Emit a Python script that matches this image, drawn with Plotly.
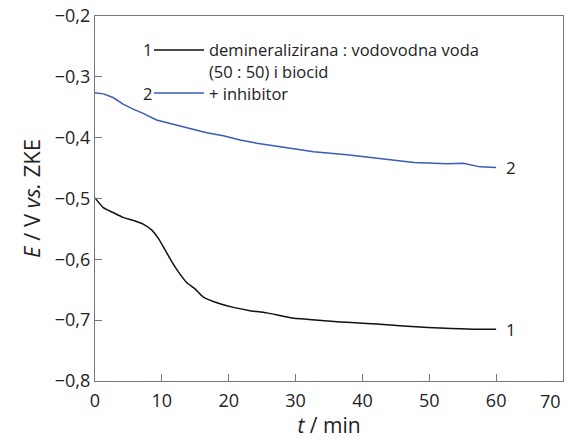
import plotly.graph_objects as go

# Series 1: demineralizirana : vodovodna voda (50:50) i biocid
t1 = [0, 1.25, 2.7, 4.2, 5.7, 7.2, 8.5, 9.5, 10.5, 11.5, 12.5, 13.7, 15, 16.2,
      18.7, 20.7, 23, 25.7, 29.2, 32, 36.7, 40, 44.2, 48, 51.6, 56.6, 60]
E1 = [-0.499, -0.515, -0.523, -0.531, -0.536, -0.542, -0.552, -0.566, -0.585,
      -0.604, -0.621, -0.638, -0.649, -0.662, -0.673, -0.679, -0.684, -0.688,
      -0.696, -0.699, -0.703, -0.705, -0.708, -0.711, -0.713, -0.715, -0.715]

# Series 2: + inhibitor
t2 = [0, 1.25, 2.7, 4.2, 5.7, 7.2, 9.2, 11.7, 14.2, 16.7, 19.2, 21.7, 24.2,
      27.7, 32.7, 37.7, 42.7, 47.7, 52.7, 55.1, 57.6, 60]
E2 = [-0.326, -0.328, -0.334, -0.345, -0.353, -0.36, -0.371, -0.378, -0.385,
      -0.392, -0.397, -0.404, -0.409, -0.415, -0.423, -0.428, -0.434, -0.441,
      -0.443, -0.442, -0.448, -0.449]

x_ticks = [0, 10, 20, 30, 40, 50, 60, 70]
x_tick_labels = ["0", "10", "20", "30", "40", "50", "60", "70"]
y_ticks = [-0.8, -0.7, -0.6, -0.5, -0.4, -0.3, -0.2]
y_tick_labels = ["−0,8", "−0,7", "−0,6", "−0,5", "−0,4", "−0,3", "−0,2"]

legend_rows = ["demineralizirana : vodovodna voda", "(50 : 50) i biocid", "+ inhibitor"]
series_ids = ["1", "2"]
colors = ["#111111", "#3a5cb8"]

FONT = "Open Sans"
W, H = 571, 439
L, R, T, B = 95, 8, 16, 58
PW, PH = W - L - R, H - T - B

def px(x):
    return (x - L) / PW

def py(y):
    return (H - B - y) / PH

fig = go.Figure()
fig.add_trace(go.Scatter(x=t1, y=E1, mode="lines", line=dict(color=colors[0], width=1.5, shape="spline", smoothing=0.6),
                         showlegend=False, hoverinfo="skip"))
fig.add_trace(go.Scatter(x=t2, y=E2, mode="lines", line=dict(color=colors[1], width=1.5),
                         showlegend=False, hoverinfo="skip"))

anns = []
# end labels
anns.append(dict(x=62.2, y=E1[-1], xref="x", yref="y", text=series_ids[0], showarrow=False,
                 xanchor="center", yanchor="middle", font=dict(size=17, color="#222")))
anns.append(dict(x=62.2, y=E2[-1], xref="x", yref="y", text=series_ids[1], showarrow=False,
                 xanchor="center", yanchor="middle", font=dict(size=17, color="#222")))

# last x tick label, kept inside the page like in the reference
anns.append(dict(x=x_ticks[-1], y=0, xref="x", yref="paper", text=x_tick_labels[-1],
                 showarrow=False, xanchor="right", yanchor="middle", yshift=-20,
                 font=dict(family=FONT, size=18, color="#222")))

# legend
rows_y = [50, 71, 93]
anns.append(dict(x=px(147), y=py(rows_y[0]), xref="paper", yref="paper", text=series_ids[0],
                 showarrow=False, xanchor="center", yanchor="middle", font=dict(size=16.5, color="#222")))
anns.append(dict(x=px(147), y=py(rows_y[2]), xref="paper", yref="paper", text=series_ids[1],
                 showarrow=False, xanchor="center", yanchor="middle", font=dict(size=16.5, color="#222")))
for i, r in enumerate(legend_rows):
    anns.append(dict(x=px(207), y=py(rows_y[i]), xref="paper", yref="paper", text=r,
                     showarrow=False, xanchor="left", yanchor="middle", font=dict(size=16.5, color="#222")))

shapes = [
    dict(type="line", xref="paper", yref="paper", x0=px(154), x1=px(204),
         y0=py(rows_y[0]), y1=py(rows_y[0]), line=dict(color=colors[0], width=1.5)),
    dict(type="line", xref="paper", yref="paper", x0=px(154), x1=px(204),
         y0=py(rows_y[2]), y1=py(rows_y[2]), line=dict(color=colors[1], width=1.5)),
]

axis_common = dict(showgrid=False, zeroline=False, showline=True, linecolor="#777",
                   linewidth=1.2, mirror=True, ticks="inside", ticklen=7, tickwidth=1.2,
                   tickcolor="#777",
                   tickfont=dict(family=FONT, size=18, color="#222"))

fig.update_layout(
    width=W, height=H,
    margin=dict(l=L, r=R, t=T, b=B, autoexpand=False),
    paper_bgcolor="white", plot_bgcolor="white",
    font=dict(family=FONT, color="#222"),
    xaxis=dict(range=[0, 70], tickvals=x_ticks[:-1], ticktext=x_tick_labels[:-1],
               ticklabelstandoff=3,
               title=dict(text="<i>t</i> / min", font=dict(family=FONT, size=21), standoff=0),
               **axis_common),
    yaxis=dict(range=[-0.8, -0.2], tickvals=y_ticks, ticktext=y_tick_labels,
               title=dict(text="<i>E</i> / V <i>vs.</i> ZKE", font=dict(family=FONT, size=22), standoff=8),
               **axis_common),
    annotations=anns,
    shapes=shapes,
)

fig.write_html("out.html")
